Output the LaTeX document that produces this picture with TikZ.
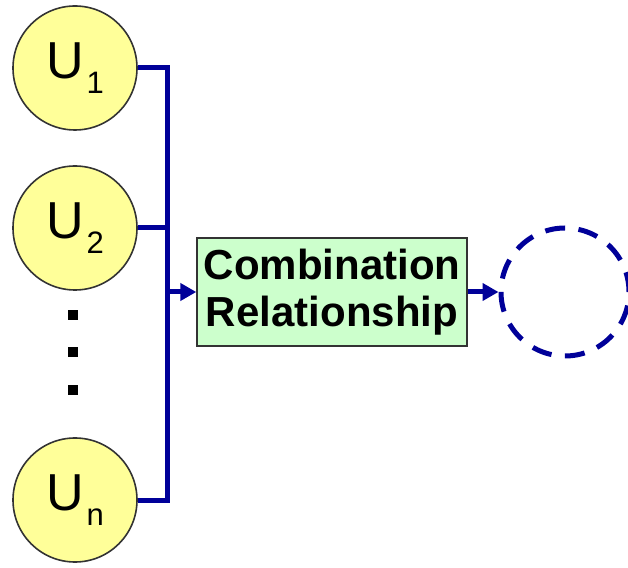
\documentclass[tikz,border=0pt]{standalone}
\usepackage{fontspec}
\setmainfont{Liberation Sans}
\usetikzlibrary{arrows.meta}
\definecolor{cyel}{HTML}{FFFF99}
\definecolor{cgreen}{HTML}{CCFFCC}
\definecolor{cnavy}{HTML}{000099}
\newcommand{\usub}[1]{{\fontsize{52}{52}\selectfont U}\kern3pt\raisebox{-15pt}{\fontsize{31}{31}\selectfont #1}}
\begin{document}
\begin{tikzpicture}[x=1pt,y=1pt,
  unode/.style={circle,draw=black!80,line width=1.6pt,fill=cyel,minimum size=124pt,inner sep=0pt},
  bus/.style={draw=cnavy,line width=5pt},
  tip/.style={-{Triangle[length=16pt,width=17pt]}},
  dotsq/.style={fill=black,minimum size=10pt,inner sep=0pt}]
\useasboundingbox (0,0) rectangle (628,567);
\node[unode] (u1) at (75,499) {\usub{1}};
\node[unode] (u2) at (75,339) {\usub{2}};
\node[unode] (un) at (75,67) {\usub{n}};
\node[dotsq] (d1) at (73,252) {};
\node[dotsq] (d2) at (73,215) {};
\node[dotsq] (d3) at (73,177) {};
\node[draw=black!80,line width=1.4pt,fill=cgreen,minimum width=270pt,minimum height=108pt,inner sep=0pt,align=center,font=\fontsize{42}{47}\selectfont\bfseries] (box) at (332,275) {Combination\\Relationship};
\node[circle,draw=cnavy,line width=5pt,dash pattern=on 20pt off 13.5pt,minimum size=128pt,inner sep=0pt] (out) at (565,275) {};
\coordinate (j) at (167,275);
\draw[bus] (u1.east) -| (j) |- (un.east);
\draw[bus] (u2.east) -- (u2.east -| j);
\draw[bus,tip] (j) -- (box.west);
\draw[bus,tip] (box.east) -- (out.west);
\end{tikzpicture}
\end{document}
